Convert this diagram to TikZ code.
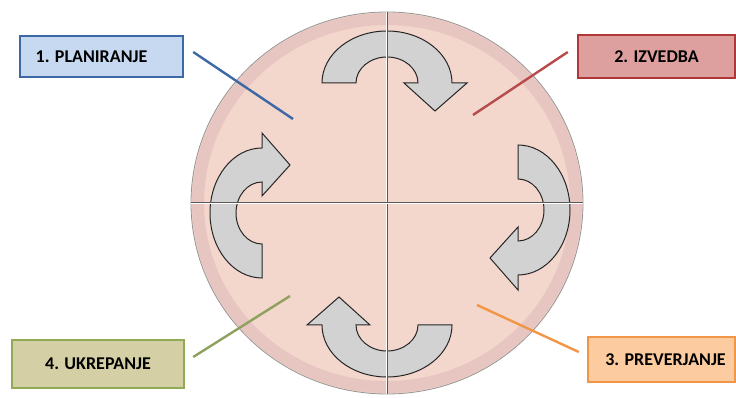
\documentclass[tikz,border=0pt]{standalone}
\usepackage{fontspec}
\setmainfont{Carlito}
\usetikzlibrary{shapes.geometric}
\definecolor{krogbarva}{RGB}{243,214,204}
\definecolor{krogsenca}{RGB}{205,160,165}
\definecolor{krogrob}{RGB}{150,150,150}
\definecolor{puscsiva}{RGB}{210,210,210}
\definecolor{modra}{RGB}{198,217,241}
\definecolor{modrarob}{RGB}{60,105,165}
\definecolor{rdeca}{RGB}{222,160,158}
\definecolor{rdecarob}{RGB}{175,55,55}
\definecolor{oranzna}{RGB}{252,203,160}
\definecolor{oranznarob}{RGB}{240,150,70}
\definecolor{olivna}{RGB}{212,207,165}
\definecolor{olivnarob}{RGB}{145,170,85}
\tikzset{
  oznaka/.style={draw,line width=2.4pt,inner sep=0pt,font=\bfseries\fontsize{18}{21}\selectfont},
  povezava/.style={line width=2.4pt},
  puscica/.style={draw=black!85,line width=1pt,fill=puscsiva},
  crta/.style={draw=white,line width=.8pt,double=black!65,double distance=1pt},
  lok/.pic={\path[puscica] (-65,0) arc[start angle=180,end angle=0,x radius=65,y radius=52]
    -- (80,0) -- (48,-28) -- (17,0) -- (31,0)
    arc[start angle=0,end angle=180,x radius=31,y radius=26] -- cycle;}
}
\begin{document}
\begin{tikzpicture}[x=1pt,y=1pt]
\useasboundingbox (0,0) rectangle (736,398);
\node[ellipse,draw=krogrob,line width=.8pt,fill=krogbarva,minimum width=392pt,minimum height=382pt,inner sep=0pt](k)at(387,195){};
\draw[line width=12pt,draw=krogsenca,opacity=.3] (387,195) ellipse[x radius=189,y radius=184];
\pic at (387,315) {lok};
\pic[rotate=-90] at (518,188) {lok};
\pic[rotate=180] at (387,73) {lok};
\pic[rotate=90] at (262,185) {lok};
\draw[crta] (k.north) -- (k.south);
\draw[crta] (k.west) -- (k.east);
\node[oznaka,draw=modrarob,fill=modra,minimum width=163pt,minimum height=41pt](p1)at(101.5,341.5){1. PLANIRANJE\hspace*{20pt}};
\node[oznaka,draw=rdecarob,fill=rdeca,minimum width=157pt,minimum height=43pt](p2)at(656.5,341.5){2. IZVEDBA};
\node[oznaka,draw=oranznarob,fill=oranzna,minimum width=147pt,minimum height=45pt](p3)at(661.5,38.5){\hspace*{8pt}3. PREVERJANJE};
\node[oznaka,draw=olivnarob,fill=olivna,minimum width=172pt,minimum height=48pt](p4)at(98,34){4. UKREPANJE};
\coordinate (c1) at (293,279);
\coordinate (c2) at (473,283);
\coordinate (c3) at (477,93);
\coordinate (c4) at (290,102);
\draw[povezava,modrarob] ([shift={(9,4.5)}]p1.east) -- (c1);
\draw[povezava,rdecarob!90] ([shift={(-9,4.5)}]p2.west) -- (c2);
\draw[povezava,oranznarob] ([shift={(-8,7.5)}]p3.west) -- (c3);
\draw[povezava,olivnarob!80!gray] ([shift={(8,7)}]p4.east) -- (c4);
\end{tikzpicture}
\end{document}
